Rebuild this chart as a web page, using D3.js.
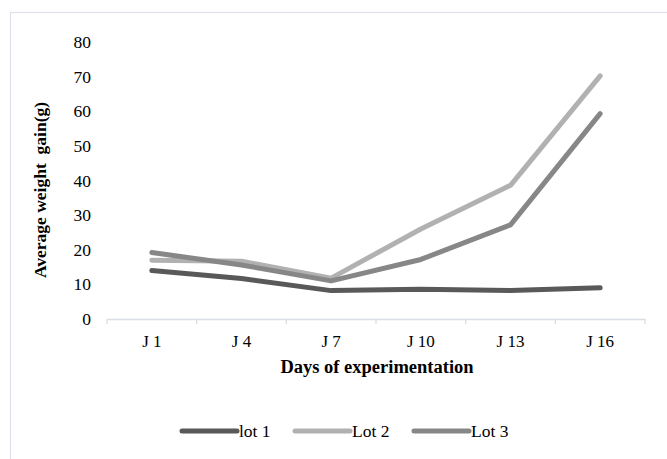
<!DOCTYPE html>
<html>
<head>
<meta charset="utf-8">
<script src="https://cdn.jsdelivr.net/npm/d3@7"></script>
<style>
  html, body { margin: 0; padding: 0; background: #fff; }
  svg { display: block; font-family: "Liberation Serif", "Times New Roman", serif; }
</style>
</head>
<body>
<svg id="chart" width="667" height="459"></svg>
<script>
const days = ['J 1', 'J 4', 'J 7', 'J 10', 'J 13', 'J 16'];
const lot1 = [14, 11.7, 8.2, 8.6, 8.2, 9];
const lot2 = [17, 16.7, 11.8, 26, 38.6, 70.2];
const lot3 = [19.2, 15.6, 11, 17.2, 27.2, 59.3];
const yTicks = [0, 10, 20, 30, 40, 50, 60, 70, 80];

const seriesNames = ['lot 1', 'Lot 2', 'Lot 3'];
const seriesColors = ['#595959', '#b1b1b1', '#878787'];
const seriesData = [lot1, lot2, lot3];

const W = 667, H = 459;
const margin = { left: 107, right: 22, top: 42, bottom: 140 };
const serif = '"Liberation Serif", "Times New Roman", serif';

const svg = d3.select('#chart');

// outer chart frame (only top/left visible in the crop)
svg.append('rect')
  .attr('x', 10.5).attr('y', 12.5)
  .attr('width', 700).attr('height', 500)
  .attr('fill', 'none')
  .attr('stroke', '#dde2ea')
  .attr('stroke-width', 1.2);

const x = d3.scaleBand()
  .domain(days)
  .range([margin.left, W - margin.right])
  .padding(0);

const y = d3.scaleLinear()
  .domain([0, 80])
  .range([H - margin.bottom, margin.top]);

// x axis
const xAxis = svg.append('g')
  .attr('transform', `translate(0,${y(0)})`)
  .call(d3.axisBottom(x).tickSize(0).tickPadding(16));
xAxis.attr('font-family', serif).attr('font-size', 17);
xAxis.select('.domain').attr('stroke', '#d9dde5').attr('stroke-width', 1.3);
xAxis.selectAll('text').attr('fill', '#000');

// tick marks at band edges
const edges = days.map(d => x(d)).concat([x.range()[1]]);
svg.append('g').selectAll('line')
  .data(edges)
  .enter().append('line')
  .attr('x1', d => d).attr('x2', d => d)
  .attr('y1', y(0)).attr('y2', y(0) + 5)
  .attr('stroke', '#d9dde5')
  .attr('stroke-width', 1.3);

// y axis labels (no line)
const yAxis = svg.append('g')
  .attr('transform', `translate(${margin.left - 16},0)`)
  .call(d3.axisLeft(y).tickValues(yTicks).tickSize(0).tickPadding(0));
yAxis.attr('font-family', serif).attr('font-size', 17.5);
yAxis.select('.domain').remove();
yAxis.selectAll('text').attr('fill', '#000');

// axis titles
svg.append('text')
  .attr('x', 377).attr('y', 373)
  .attr('text-anchor', 'middle')
  .attr('font-size', 18.5).attr('font-weight', 'bold')
  .text('Days of experimentation');

svg.append('text')
  .attr('transform', `translate(46,190) rotate(-90)`)
  .attr('text-anchor', 'middle')
  .attr('font-size', 17.5).attr('font-weight', 'bold')
  .style('white-space', 'pre')
  .text('Average weight  gain(g)');

// lines
const line = d3.line()
  .x((d, i) => x(days[i]) + x.bandwidth() / 2)
  .y(d => y(d));

svg.append('g').selectAll('path')
  .data(seriesData)
  .enter().append('path')
  .attr('d', d => line(d))
  .attr('fill', 'none')
  .attr('stroke', (d, i) => seriesColors[i])
  .attr('stroke-width', 5)
  .attr('stroke-linecap', 'round')
  .attr('stroke-linejoin', 'round');

// legend
const legendX = [182, 295, 414];
const legend = svg.append('g');
seriesNames.forEach((name, i) => {
  legend.append('line')
    .attr('x1', legendX[i]).attr('x2', legendX[i] + 55)
    .attr('y1', 431).attr('y2', 431)
    .attr('stroke', seriesColors[i])
    .attr('stroke-width', 5)
    .attr('stroke-linecap', 'round');
  legend.append('text')
    .attr('x', legendX[i] + 57).attr('y', 437)
    .attr('font-size', 17.5)
    .text(name);
});
</script>
</body>
</html>
